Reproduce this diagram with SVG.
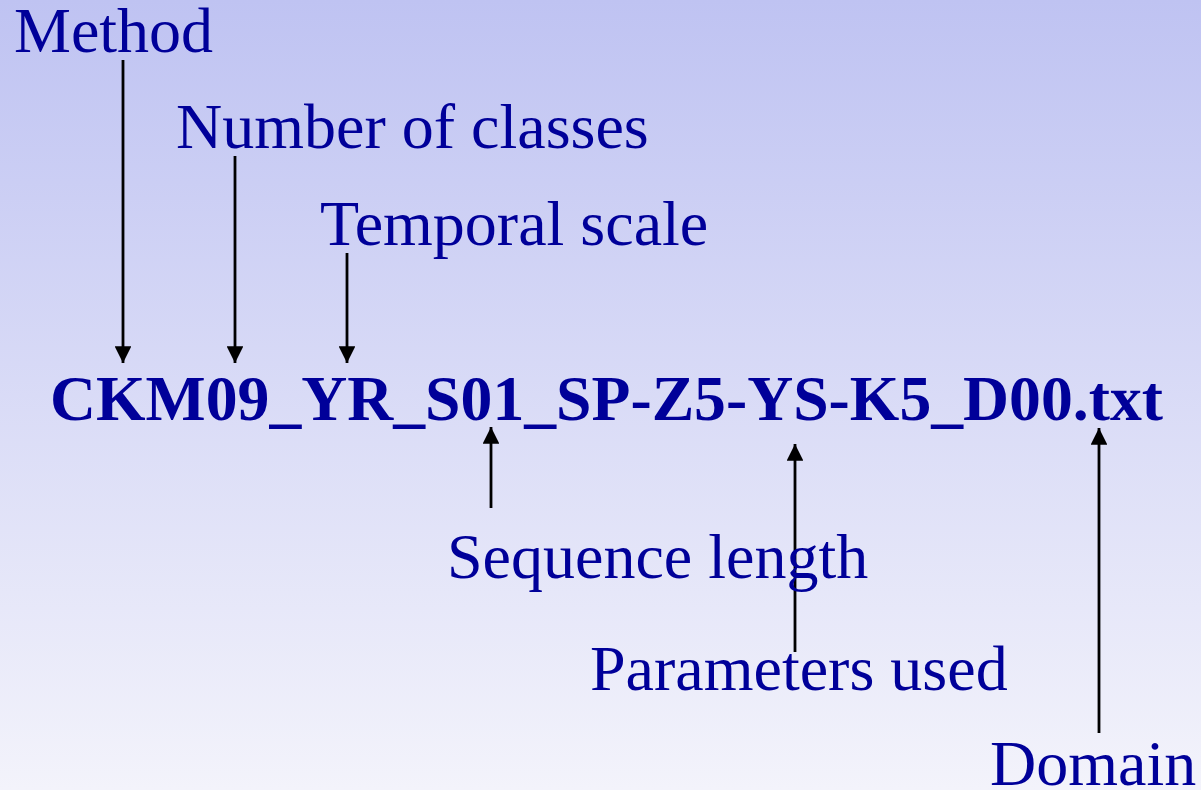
<svg xmlns="http://www.w3.org/2000/svg" width="1201" height="790" viewBox="0 0 1201 790">
  <defs>
    <linearGradient id="bg" x1="0" y1="0" x2="0" y2="1">
      <stop offset="0" stop-color="#bfc3f2"/>
      <stop offset="1" stop-color="#f3f3fb"/>
    </linearGradient>
    <marker id="head" viewBox="0 0 10 10" refX="10" refY="5" markerWidth="6" markerHeight="6" markerUnits="strokeWidth" orient="auto">
      <path d="M0,0 L10,5 L0,10 Z" fill="#000"/>
    </marker>
    <style>
      .lbl { font-family: "Liberation Serif", "Times New Roman", serif; font-size: 64px; fill: #000099; }
      .name { font-weight: bold; }
      .arrow { stroke: #000; stroke-width: 2.8; fill: none; marker-end: url(#head); }
    </style>
  </defs>

  <rect x="0" y="0" width="1201" height="790" fill="url(#bg)"/>

  <g id="connectors">
    <line class="arrow" x1="123" y1="60" x2="123" y2="363"/>
    <line class="arrow" x1="235" y1="156" x2="235" y2="363"/>
    <line class="arrow" x1="347" y1="253" x2="347" y2="363"/>
    <line class="arrow" x1="491" y1="508" x2="491" y2="427"/>
    <line class="arrow" x1="795" y1="652" x2="795" y2="444"/>
    <line class="arrow" x1="1099" y1="733" x2="1099" y2="428"/>
  </g>

  <g id="filename">
    <text class="lbl name" x="50" y="420" textLength="1113" lengthAdjust="spacingAndGlyphs">CKM09_YR_S01_SP-Z5-YS-K5_D00.txt</text>
  </g>
  <g id="method">
    <text class="lbl" x="14" y="52">Method</text>
  </g>
  <g id="number-of-classes">
    <text class="lbl" x="176" y="148">Number of classes</text>
  </g>
  <g id="temporal-scale">
    <text class="lbl" x="320" y="245">Temporal scale</text>
  </g>
  <g id="sequence-length">
    <text class="lbl" x="447" y="578">Sequence length</text>
  </g>
  <g id="parameters-used">
    <text class="lbl" x="590" y="690">Parameters used</text>
  </g>
  <g id="domain">
    <text class="lbl" x="990" y="785">Domain</text>
  </g>
</svg>
